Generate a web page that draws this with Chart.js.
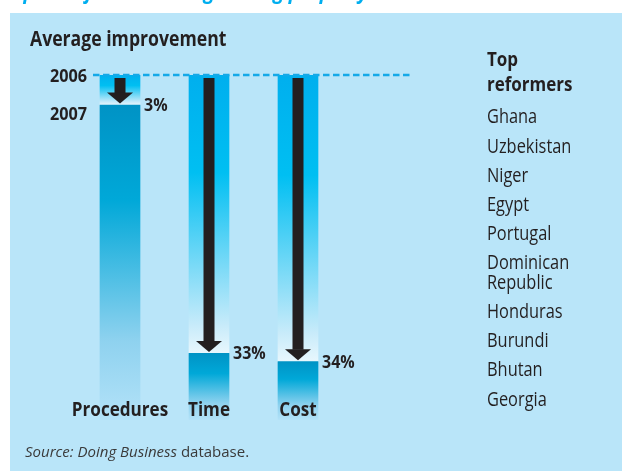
<!DOCTYPE html>
<html>
<head>
<meta charset="utf-8">
<script src="https://cdn.jsdelivr.net/npm/chart.js@4.4.0/dist/chart.umd.min.js"></script>
<style>
  html, body { margin: 0; padding: 0; background: #fff; }
  #wrap { position: relative; width: 622px; height: 471px; overflow: hidden; }
</style>
</head>
<body>
<div id="wrap"><canvas id="improvementChart" width="622" height="471"></canvas></div>
<script>
// Data (2006 level = 100, bar heights as drawn)
const categories = ['Procedures', 'Time', 'Cost'];
const improvementLabels = ['3%', '33%', '34%'];
const level2006 = [100, 100, 100];
const level2007 = [91.3, 19.3, 16.9];
const yearLabels = ['2006', '2007'];
const reformers = ['Ghana', 'Uzbekistan', 'Niger', 'Egypt', 'Portugal',
  ['Dominican', 'Republic'], 'Honduras', 'Burundi', 'Bhutan', 'Georgia'];

const FONT = '"Open Sans", "Noto Sans", sans-serif';
const INK = '#231f20';
const PANEL = '#b9e5f9';

function vGrad(ctx, top, bottom, stops) {
  const g = ctx.createLinearGradient(0, top, 0, bottom);
  stops.forEach(s => g.addColorStop(s[0], s[1]));
  return g;
}

// draw text squeezed horizontally (condensed look)
function text(ctx, str, x, y, font, sx, align) {
  ctx.save();
  ctx.font = font;
  ctx.textAlign = align || 'left';
  ctx.translate(x, y);
  ctx.scale(sx, 1);
  ctx.fillText(str, 0, 0);
  ctx.restore();
}

// darker fill for the 2007 part of each bar
function darkFill(c) {
  const chart = c.chart;
  if (!chart.chartArea || c.dataIndex === undefined) return '#0096c8';
  const y = chart.scales.y;
  const top = y.getPixelForValue(level2007[c.dataIndex]);
  const bottom = y.getPixelForValue(0);
  return vGrad(chart.ctx, top, bottom, [
    [0, '#0093c5'], [0.3, '#00a8d8'], [0.75, '#8fd2ef'], [1, '#b3e2f8']
  ]);
}

// lighter fill for the improvement part (2006 -> 2007)
function lightFill(c) {
  const chart = c.chart;
  if (!chart.chartArea || c.dataIndex === undefined) return '#00b4ef';
  const y = chart.scales.y;
  const top = y.getPixelForValue(level2006[c.dataIndex]);
  const bottom = y.getPixelForValue(level2007[c.dataIndex]);
  return vGrad(chart.ctx, top, bottom, [
    [0, '#00afee'], [0.35, '#00bff2'], [0.9, '#c8ebfa'], [1, '#e8f7fd']
  ]);
}

// background panel + title strip
const backdrop = {
  id: 'backdrop',
  beforeDraw(chart) {
    const ctx = chart.ctx;
    ctx.save();
    ctx.fillStyle = '#fff';
    ctx.fillRect(0, 0, chart.width, chart.height);
    ctx.fillStyle = PANEL;
    ctx.fillRect(10, 13, chart.width - 10, chart.height - 13);
    // title is cut off at the top edge, only descenders show
    ctx.fillStyle = '#00aeef';
    ctx.textBaseline = 'alphabetic';
    text(ctx, 'Top 10 reformers in registering property', 2, -1.5,
      'italic bold 21px ' + FONT, 0.92);
    ctx.restore();
  }
};

// arrows, dashed 2006 line and all labels
const annotations = {
  id: 'annotations',
  afterDatasetsDraw(chart) {
    const ctx = chart.ctx;
    const y = chart.scales.y;
    const meta = chart.getDatasetMeta(0);
    const y2006 = y.getPixelForValue(level2006[0]);
    ctx.save();

    // arrows
    ctx.fillStyle = INK;
    meta.data.forEach((bar, i) => {
      const x = bar.x;
      const tip = y.getPixelForValue(level2007[i]) - 1.5;
      const start = y2006 + 3;
      const headH = 11, shaftW = 11, headW = 26;
      ctx.fillRect(x - shaftW / 2, start, shaftW, tip - headH - start + 0.5);
      ctx.beginPath();
      ctx.moveTo(x - headW / 2, tip - headH);
      ctx.lineTo(x + headW / 2, tip - headH);
      ctx.lineTo(x, tip);
      ctx.closePath();
      ctx.fill();
    });

    // dashed 2006 line
    const first = meta.data[0];
    ctx.strokeStyle = '#14a9e8';
    ctx.lineWidth = 2.5;
    ctx.setLineDash([6.5, 3.5]);
    ctx.beginPath();
    ctx.moveTo(first.x - 27, y2006);
    ctx.lineTo(410, y2006);
    ctx.stroke();
    ctx.setLineDash([]);

    ctx.fillStyle = INK;
    ctx.textBaseline = 'alphabetic';

    // year labels
    text(ctx, yearLabels[0], 87, y2006 + 6.5, 'bold 18px ' + FONT, 0.9, 'right');
    text(ctx, yearLabels[1], 87, y.getPixelForValue(level2007[0]) + 14.5, 'bold 18px ' + FONT, 0.9, 'right');

    // percentage labels
    meta.data.forEach((bar, i) => {
      text(ctx, improvementLabels[i], bar.x + 24, y.getPixelForValue(level2007[i]) + 6,
        'bold 18.6px ' + FONT, 0.86);
    });

    // category labels
    meta.data.forEach((bar, i) => {
      text(ctx, categories[i], bar.x, 416, 'bold 20px ' + FONT, 0.855, 'center');
    });

    // heading
    text(ctx, 'Average improvement', 30, 45.5, 'bold 20.5px ' + FONT, 0.86);

    // reformers list
    text(ctx, 'Top', 487, 66.3, 'bold 20px ' + FONT, 0.85);
    text(ctx, 'reformers', 487, 90.7, 'bold 20px ' + FONT, 0.85);
    let base = 123.3;
    reformers.forEach(name => {
      const lines = Array.isArray(name) ? name : [name];
      lines.forEach((ln, k) => {
        text(ctx, ln, 487, base + k * 19.5, '19.5px ' + FONT, 0.84);
      });
      base += 29.2 + (lines.length - 1) * 19.5;
    });

    // source
    ctx.fillStyle = '#3a3a3a';
    ctx.font = 'italic 15px ' + FONT;
    const src = 'Source: Doing Business';
    ctx.fillText(src, 25, 456.7);
    const w = ctx.measureText(src).width;
    ctx.font = '15px ' + FONT;
    ctx.fillText(' database.', 25 + w, 456.7);

    ctx.restore();
  }
};

const ctx = document.getElementById('improvementChart').getContext('2d');
const improvementChart = new Chart(ctx, {
  type: 'bar',
  data: {
    labels: categories,
    datasets: [
      {
        label: '2007',
        data: level2007,
        backgroundColor: darkFill,
        barThickness: 40,
        grouped: false,
        borderWidth: 0
      },
      {
        label: '2006',
        data: level2007.map((v, i) => [v, level2006[i]]),
        backgroundColor: lightFill,
        barThickness: 40,
        grouped: false,
        borderWidth: 0
      }
    ]
  },
  options: {
    responsive: false,
    animation: false,
    devicePixelRatio: 1,
    layout: {
      padding: { left: 75.5, right: 279.5, top: 75, bottom: 51 }
    },
    scales: {
      x: { display: false },
      y: { display: false, min: 0, max: 100 }
    },
    plugins: {
      legend: { display: false },
      tooltip: { enabled: false }
    }
  },
  plugins: [backdrop, annotations]
});
</script>
</body>
</html>
